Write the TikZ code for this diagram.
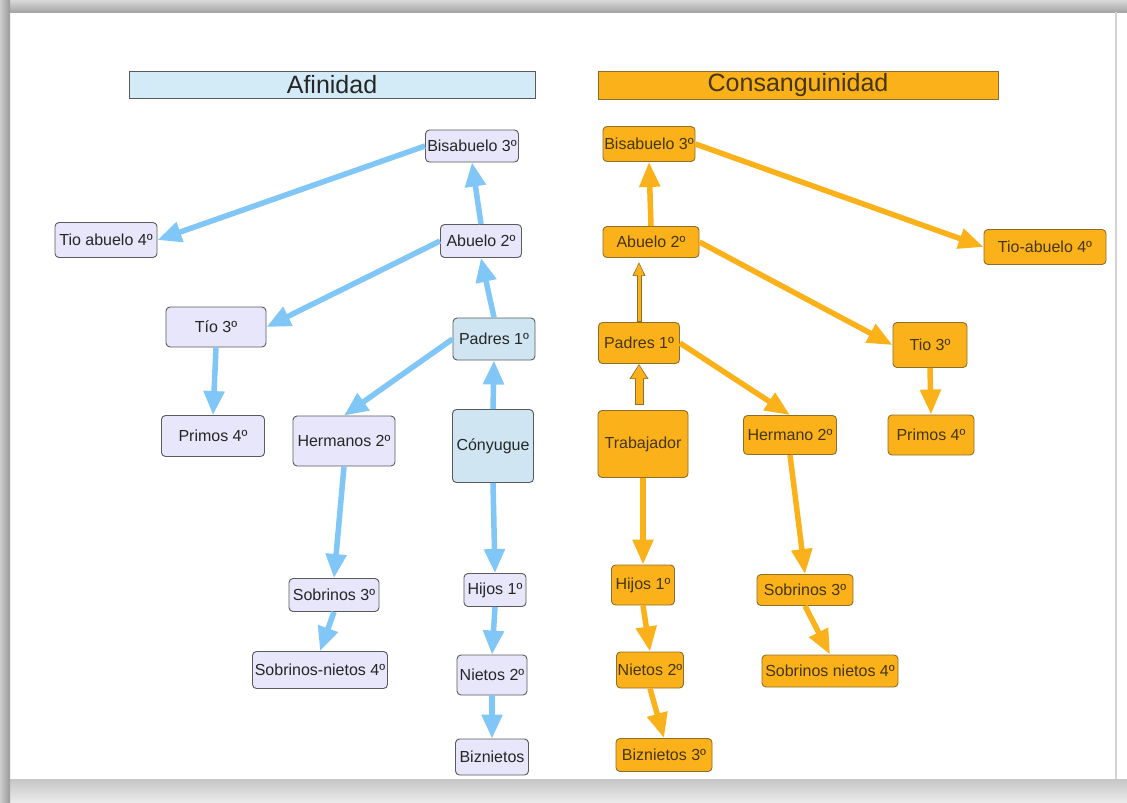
\documentclass[tikz,border=0pt]{standalone}
\usepackage{fontspec}
\setmainfont{Liberation Sans}
\usetikzlibrary{positioning,arrows.meta}

\definecolor{afinfill}{HTML}{E8E6FA}
\definecolor{afinblue}{HTML}{CFE6F2}
\definecolor{afinbar}{HTML}{D3EBF7}
\definecolor{afinarrow}{HTML}{80C6F7}
\definecolor{afinedge}{HTML}{5A5A5A}
\definecolor{consfill}{HTML}{FBB21A}
\definecolor{consedge}{HTML}{8C6E2A}
\definecolor{constext}{HTML}{45360F}

\newcommand{\boxfont}{\fontsize{16}{18}\selectfont}
\newcommand{\bandfont}{\fontsize{25}{28}\selectfont}

\begin{document}
\begin{tikzpicture}[x=1pt, y=-1pt, on grid,
	lbox/.style={draw=afinedge, fill=afinfill, rounded corners=4pt, line width=0.9pt,
		text=black!85, font=\boxfont, inner sep=1pt},
	lboxb/.style={lbox, fill=afinblue},
	cbox/.style={draw=consedge, fill=consfill, rounded corners=4pt, line width=0.9pt,
		text=constext, font=\boxfont, inner sep=1pt},
	band/.style={line width=0.8pt, font=\bandfont, inner sep=0pt},
	ablue/.style={draw=afinarrow, line width=5.5pt, -{Triangle[length=24pt, width=20pt]}},
	aorange/.style={draw=consfill, line width=5.5pt, -{Triangle[length=25pt, width=20pt]}},
	bigout/.style={draw=consedge, line width=9pt, -{Triangle[length=15pt, width=18pt]}},
	bigin/.style={draw=consfill, line width=7pt, -{Triangle[length=13pt, width=15pt]}},
	thinout/.style={draw=consedge, line width=5pt, -{Triangle[length=14pt, width=12pt]}},
	thinin/.style={draw=consfill, line width=3pt, -{Triangle[length=12pt, width=9.5pt]}}]

	\useasboundingbox (0,0) rectangle (1127,803);
	\fill[white] (0,0) rectangle (1127,803);
	\shade[top color=gray!30, bottom color=gray!70] (0,0) rectangle (1127,12);
	\shade[bottom color=gray!15, top color=gray!45] (0,779) rectangle (1127,803);
	\shade[left color=gray!40, right color=gray!80] (0,0) rectangle (10,803);
	\draw[gray!35, line width=1.5pt] (1116,12) -- (1116,779);

	\node[band, draw=afinedge, fill=afinbar, minimum width=406pt, minimum height=27pt,
		text=black!85] (afin) at (332,84.5) {Afinidad};
	\node[band, draw=consedge, fill=consfill, minimum width=400pt, minimum height=28pt,
		text=constext] (cons) at (798,85) {Consanguinidad};

	\node[lbox, minimum width=93pt, minimum height=32pt] (bisA) at (472,146) {Bisabuelo 3º};
	\node[lbox, minimum width=102pt, minimum height=35pt] (tioabA) [below left=94pt and 366pt of bisA] {Tio abuelo 4º};
	\node[lbox, minimum width=81pt, minimum height=33pt] (abA) [below right=95pt and 9pt of bisA] {Abuelo 2º};
	\node[lbox, minimum width=100pt, minimum height=40pt] (tioA) [below left=86pt and 265pt of abA] {Tío 3º};
	\node[lboxb, minimum width=82pt, minimum height=42pt] (padA) [below right=98pt and 13pt of abA] {Padres 1º};
	\node[lbox, minimum width=103pt, minimum height=41pt] (priA) [below left=109pt and 3pt of tioA] {Primos 4º};
	\node[lbox, minimum width=102pt, minimum height=50pt] (herA) [below left=102pt and 150pt of padA] {Hermanos 2º};
	\node[lboxb, minimum width=81pt, minimum height=73pt] (conA) [below left=107pt and 1pt of padA] {Cónyugue};
	\node[lbox, minimum width=90pt, minimum height=33pt] (sobA) [below left=154pt and 10pt of herA] {Sobrinos 3º};
	\node[lbox, minimum width=135pt, minimum height=37pt] (sobnA) [below left=75pt and 14pt of sobA] {Sobrinos-nietos 4º};
	\node[lbox, minimum width=62pt, minimum height=33pt] (hijA) [below right=144pt and 2pt of conA] {Hijos 1º};
	\node[lbox, minimum width=70pt, minimum height=40pt] (nieA) [below left=85pt and 3pt of hijA] {Nietos 2º};
	\node[lbox, minimum width=73pt, minimum height=36pt] (bizA) [below=82pt of nieA] {Biznietos};

	\node[cbox, minimum width=92pt, minimum height=35pt] (bisC) at (649,144) {Bisabuelo 3º};
	\node[cbox, minimum width=96pt, minimum height=31pt] (abC) [below right=98pt and 2pt of bisC] {Abuelo 2º};
	\node[cbox, minimum width=122pt, minimum height=35pt] (tioabC) [below right=5pt and 394pt of abC] {Tio-abuelo 4º};
	\node[cbox, minimum width=81pt, minimum height=41pt] (padC) [below left=101pt and 12pt of abC] {Padres 1º};
	\node[cbox, minimum width=74pt, minimum height=45pt] (tioC) [below right=103pt and 279pt of abC] {Tio 3º};
	\node[cbox, minimum width=90pt, minimum height=67pt] (trabC) [below right=101pt and 4pt of padC] {Trabajador};
	\node[cbox, minimum width=93pt, minimum height=39pt] (herC) [below right=92pt and 151pt of padC] {Hermano 2º};
	\node[cbox, minimum width=86pt, minimum height=40pt] (priC) [below right=90pt and 1pt of tioC] {Primos 4º};
	\node[cbox, minimum width=63pt, minimum height=40pt] (hijC) [below=141pt of trabC] {Hijos 1º};
	\node[cbox, minimum width=96pt, minimum height=31pt] (sobC) [below right=155pt and 15pt of herC] {Sobrinos 3º};
	\node[cbox, minimum width=67pt, minimum height=36pt] (nieC) [below right=85pt and 7pt of hijC] {Nietos 2º};
	\node[cbox, minimum width=136pt, minimum height=32pt] (sobnC) [below right=81pt and 25pt of sobC] {Sobrinos nietos 4º};
	\node[cbox, minimum width=96pt, minimum height=33pt] (bizC) [below right=85pt and 14pt of nieC] {Biznietos 3º};

	\draw[ablue] (bisA.west) -- (tioabA.east);
	\draw[ablue] (abA.north) -- (bisA.south);
	\draw[ablue] (abA.west) -- (tioA.east);
	\draw[ablue] (padA.north) -- (abA.south);
	\draw[ablue] (tioA.south) -- (priA.north);
	\draw[ablue] (padA.west) -- (herA.north);
	\draw[ablue] (conA.north) -- (padA.south);
	\draw[ablue] (herA.south) -- (sobA.north);
	\draw[ablue] (sobA.south) -- (sobnA.north);
	\draw[ablue] (conA.south) -- (hijA.north);
	\draw[ablue] (hijA.south) -- (nieA.north);
	\draw[ablue] (nieA.south) -- (bizA.north);

	\draw[aorange] (abC.north) -- (bisC.south);
	\draw[aorange] (bisC.east) -- (tioabC.west);
	\draw[aorange] (abC.east) -- (tioC.west);
	\draw[thinout, shorten >=4pt] (padC.north) -- (padC.north |- abC.south);
	\draw[thinin, shorten >=5.3pt, shorten <=0.8pt] (padC.north) -- (padC.north |- abC.south);
	\draw[bigout, shorten <=5pt] (padC.south |- trabC.north) -- (padC.south);
	\draw[bigin, shorten <=6pt, shorten >=1.3pt] (padC.south |- trabC.north) -- (padC.south);
	\draw[aorange] (padC.east) -- (herC.north);
	\draw[aorange] (tioC.south) -- (priC.north);
	\draw[aorange] (trabC.south) -- (hijC.north);
	\draw[aorange] (herC.south) -- (sobC.north);
	\draw[aorange] (hijC.south) -- (nieC.north);
	\draw[aorange] (nieC.south) -- (bizC.north);
	\draw[aorange] (sobC.south) -- (sobnC.north);
\end{tikzpicture}
\end{document}
